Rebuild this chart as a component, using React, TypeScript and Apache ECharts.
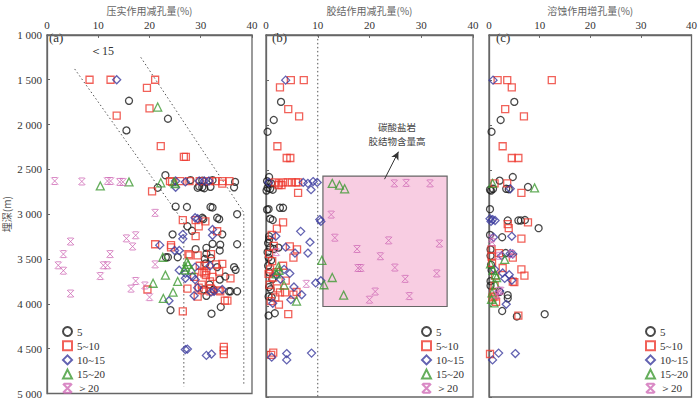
import React, { useEffect, useRef } from "react";
import * as echarts from "echarts";

// ---------- data: [value(%), depth(m)] ----------
const classNames = ["5", "5~10", "10~15", "15~20", "＞20"];
const panelTitles = ["压实作用减孔量(%)", "胶结作用减孔量(%)", "溶蚀作用增孔量(%)"];
const panelTags = ["(a)", "(b)", "(c)"];
const depthTicks = [1000, 1500, 2000, 2500, 3000, 3500, 4000, 4500, 5000];

const a5 = [[16.0,1735],[23.6,1935],[15.5,2065],[23.1,2565],[21.6,2705],[28.0,2620],[30.3,2625],[32.3,2620],[36.7,2640],[29.7,2690],[30.3,2700],[31.9,2695],[36.5,2700],[29.4,2705],[30.7,2710],[25.1,2915],[27.3,2920],[31.9,2920],[32.3,2925],[30.3,3040],[30.5,3055],[33.2,3040],[33.6,3055],[37.1,3000],[27.4,3135],[28.3,3185],[24.5,3225],[34.2,3225],[29.0,3390],[31.1,3375],[32.3,3330],[33.8,3340],[33.7,3405],[31.1,3440],[23.2,3480],[23.6,3480],[25.5,3480],[37.1,3335],[30.8,3500],[32.0,3490],[30.9,3550],[36.8,3620],[34.8,3695],[33.7,3730],[31.7,3785],[32.5,3840],[35.5,3860],[37.1,3860],[31.1,3910],[33.9,4035],[32.1,4110],[24.1,4070],[30.6,3840],[33.2,3590],[36.5,3590],[35.8,3860]];
const a510 = [[8.3,1500],[12.4,1500],[21.1,1500],[19.5,1590],[20.0,1820],[13.6,1900],[22.2,2240],[26.7,2360],[27.1,2360],[20.5,2745],[24.0,2630],[26.0,2630],[27.8,2630],[29.8,2630],[31.7,2630],[32.9,2630],[34.2,2630],[35.6,2630],[34.2,2660],[24.4,2640],[21.1,3335],[24.2,3345],[24.2,3370],[26.5,3065],[29.0,3065],[30.9,3080],[29.6,3135],[29.0,3245],[33.2,3190],[27.6,3445],[29.4,3460],[32.0,3445],[29.8,3575],[30.7,3575],[31.1,3635],[30.7,3660],[33.0,3560],[34.2,3555],[32.3,3700],[35.8,3715],[27.4,3830],[29.6,3820],[32.0,3830],[33.5,3850],[29.4,3920],[34.7,3965],[35.2,3965],[19.6,3840],[26.5,4085],[34.5,4480],[34.5,4520],[34.5,4560],[31.8,3750],[30.2,3785],[30.3,3640],[31.0,3680],[33.6,3640],[30.3,3850],[31.9,3860],[33.8,3860],[28.7,3700],[27.8,3460]];
const a1015 = [[13.6,1500],[25.1,2630],[27.0,2640],[29.7,2630],[30.7,2630],[31.6,2630],[25.1,2700],[28.9,3040],[29.4,3050],[26.5,3225],[26.5,3275],[22.0,3345],[24.9,3405],[25.8,3405],[32.3,3170],[32.3,3235],[25.8,3625],[27.0,3660],[27.0,3715],[28.9,3590],[31.8,3575],[28.9,3730],[29.4,3820],[28.7,3910],[23.8,3965],[27.0,4510],[27.4,4505],[31.1,4575],[32.1,4560],[32.0,3870],[34.2,3840],[32.6,3860],[28.4,3695]];
const a1520 = [[21.6,1805],[10.4,2685],[16.0,2640],[22.2,2650],[24.8,2640],[25.0,2660],[22.6,3480],[27.3,3530],[27.5,3560],[27.0,3590],[26.8,3620],[28.2,3620],[23.1,3680],[25.5,3750],[20.7,3770],[24.6,3870],[22.7,3940]];
const a20 = [[1.5,2630],[6.8,2635],[11.8,2630],[12.4,2630],[14.2,2640],[14.8,2640],[21.1,2985],[4.6,3305],[15.5,3270],[17.3,3235],[16.7,3360],[3.2,3445],[12.3,3445],[2.2,3570],[3.2,3630],[11.0,3570],[11.8,3570],[10.4,3690],[17.3,3745],[16.4,3830],[19.1,3795],[20.0,3925],[21.1,3560],[4.6,3885]];

const b5 = [[2.9,1740],[1.5,1940],[0.3,2070],[0.6,2570],[0.2,2615],[0.5,2640],[1.0,2640],[0.3,2690],[0.8,2700],[1.3,2710],[0.1,2720],[0.5,2925],[2.7,2910],[3.3,2910],[0.2,2930],[0.8,3030],[1.3,3045],[0.6,3225],[0.6,3260],[0.8,3350],[2.4,3350],[1.5,3365],[0.5,3460],[1.0,3490],[0.6,3785],[0.9,3810],[0.5,3890],[1.1,3900],[0.5,4100],[1.7,4075],[0.4,3550],[0.6,3620],[1.2,3700],[0.3,3400],[0.4,3300]];
const b510 = [[4.8,1500],[7.3,1500],[2.7,1580],[4.3,1820],[6.4,1900],[2.2,2230],[4.0,2360],[4.7,2360],[6.2,2745],[1.7,2630],[2.5,2640],[3.3,2630],[4.2,2630],[5.0,2630],[5.8,2630],[6.2,2630],[2.4,2660],[3.0,2660],[3.3,3070],[2.1,3140],[1.1,3210],[4.6,3335],[6.0,3370],[5.3,3460],[3.3,3550],[0.8,3590],[3.8,3715],[2.7,3845],[3.7,3845],[2.2,3800],[5.9,3840],[2.5,3980],[4.3,4085],[1.4,4510],[1.0,4535],[5.3,3870],[0.6,3420],[1.2,3500],[0.5,3640],[1.4,3680],[0.7,3760],[1.8,3900],[0.9,3940],[2.0,3620],[1.5,3330]];
const b1015 = [[3.8,1500],[7.2,2630],[8.1,2640],[9.1,2620],[9.9,2630],[8.7,2710],[0.5,2630],[10.4,3040],[10.6,3060],[6.7,3170],[8.5,3290],[8.1,3410],[5.6,3410],[9.6,3740],[10.6,3715],[5.4,3785],[6.9,3870],[4.8,3925],[4.6,3635],[3.5,3590],[1.9,3225],[3.8,3345],[1.3,3965],[8.8,4515],[4.0,4520],[4.0,4590],[1.1,4560],[2.0,3650],[2.8,3700]];
const b1520 = [[12.8,2640],[14.2,2660],[15.2,2700],[10.8,3490],[12.8,3680],[11.2,3760],[15.0,3875],[5.9,3940],[3.5,3765],[2.5,3600],[2.4,3560],[2.0,3640]];
const b20 = [[24.8,2640],[27.1,2635],[31.7,2640],[12.6,2985],[13.3,3240],[23.7,3270],[33.5,3305],[17.6,3365],[22.1,3445],[17.8,3575],[18.3,3575],[24.9,3570],[33.0,3635],[26.9,3695],[21.1,3835],[20.0,3925],[27.7,3885],[7.8,3750],[2.0,3400]];

const c5 = [[5.0,1740],[2.3,1940],[0.5,2070],[4.7,2570],[2.1,2610],[0.8,2700],[0.2,2710],[3.4,2700],[3.9,2705],[7.7,2680],[0.4,2720],[0.2,2925],[3.7,3050],[5.8,3050],[6.3,3050],[7.1,3045],[9.8,3135],[2.6,3235],[0.2,3210],[3.7,3875],[3.7,3910],[2.6,4050],[5.5,4110],[11.0,4085],[3.3,3410],[0.3,3370],[0.3,3440],[0.3,3720],[0.3,3770],[2.1,3840],[0.4,3540],[0.5,3600]];
const c510 = [[1.7,1500],[3.6,1500],[12.4,1500],[4.5,1580],[3.2,1820],[6.9,1900],[2.7,2230],[4.5,2360],[5.8,2360],[6.4,2745],[3.6,2640],[1.1,2640],[7.7,3070],[3.7,3090],[3.9,3135],[6.4,3250],[0.5,3370],[2.0,3410],[4.7,3460],[6.4,3590],[7.0,3660],[2.7,3575],[4.7,3725],[5.0,3730],[5.8,4100],[0.9,3840],[1.1,3890],[1.4,3950],[0.7,3900],[0.2,4525],[1.1,3770],[0.5,3450],[0.6,3520],[1.2,3660]];
const c1015 = [[0.8,1500],[4.2,2700],[0.2,3030],[0.7,3040],[1.2,3050],[0.4,3060],[4.5,3225],[0.9,3235],[4.2,3415],[4.7,3420],[2.7,3630],[4.0,3650],[4.5,3710],[3.1,3690],[1.1,3590],[3.4,3975],[1.9,4515],[5.2,4520],[0.7,4590],[2.1,3830],[2.5,3440]];
const c1520 = [[9.0,2690],[0.7,2640],[3.1,3480],[0.3,3530],[0.8,3600],[1.3,3650],[1.5,3680],[1.3,3760],[0.5,3920],[1.0,3960],[0.6,3850]];
const c20 = [[0.5,3250],[0.6,3290],[2.0,3440],[4.4,3420],[2.0,3830],[2.3,3825],[1.5,3870]];

// guide lines and annotations (data coordinates)
const trendLineLeft = [[5.4,1380],[26.7,3090],[26.7,4920]];
const trendLineRight = [[18.3,1250],[38.4,2980],[38.4,4890]];
const cementLimit = [[10,1000],[10,5000]];
const carbonateBox = [[11,2560],[35,4000]];
const arrowFrom = [22.9,2594];
const arrowTo = [25.6,2290];
const noteLines = ["碳酸盐岩", "胶结物含量高"];

const panelData = [
  [a5, a510, a1015, a1520, a20],
  [b5, b510, b1015, b1520, b20],
  [c5, c510, c1015, c1520, c20],
];

const styles = [
  { symbol: "circle", size: 7, color: "#1a1a1a", bw: 1.3 },
  { symbol: "rect", size: 7, color: "#ee3a2f", bw: 1.3 },
  { symbol: "diamond", size: 8, color: "#3b3b9e", bw: 1.3 },
  { symbol: "triangle", size: 8, color: "#3e9a33", bw: 1.3 },
  { symbol: "path://M0,0L10,10M10,0L0,10M1,0L9,0M1,10L9,10", size: 7, color: "#d06cb6", bw: 1 },
];

const serif = "Liberation Serif";
const cjk = "Noto Sans CJK SC";
const fmtDepth = (v: number) => {
  const s = String(v);
  return s.length > 3 ? s.slice(0, s.length - 3) + " " + s.slice(-3) : s;
};

export default function App() {
  const ref = useRef<HTMLDivElement>(null);
  useEffect(() => {
    if (!ref.current) return;
    const chart = echarts.init(ref.current, null, { renderer: "svg" });
    const grids = [
      { left: 43, top: 28, width: 209, height: 369 },
      { left: 266, top: 28, width: 207, height: 369 },
      { left: 489, top: 28, width: 209, height: 369 },
    ].map((g) => ({ ...g, show: true, borderColor: "#666", borderWidth: 1.3, backgroundColor: "transparent" }));

    const xAxes = [0, 1, 2].map((i) => ({
      gridIndex: i,
      type: "value",
      position: "top",
      min: 0,
      max: 40,
      interval: 10,
      name: panelTitles[i],
      nameLocation: "middle",
      nameGap: 16,
      nameTextStyle: { fontFamily: cjk, fontSize: 10, color: "#666" },
      axisLine: { lineStyle: { color: "#666", width: 1.3 } },
      axisTick: { inside: true, length: 3, lineStyle: { color: "#666" } },
      axisLabel: { fontFamily: serif, fontSize: 11, color: "#333", margin: 4 },
      splitLine: { show: false },
    }));
    const yAxes = [0, 1, 2].map((i) => ({
      gridIndex: i,
      type: "value",
      inverse: true,
      min: 1000,
      max: 5000,
      interval: 500,
      name: i === 0 ? "埋深(m)" : "",
      nameLocation: "middle",
      nameGap: 36,
      nameRotate: 90,
      nameTextStyle: { fontFamily: cjk, fontSize: 10, color: "#555" },
      axisLine: { lineStyle: { color: "#666", width: 1.3 } },
      axisTick: { inside: true, length: 3, lineStyle: { color: "#666" } },
      axisLabel: {
        show: i === 0,
        fontFamily: serif,
        fontSize: 11,
        color: "#333",
        margin: 5,
        formatter: (v: number) => fmtDepth(v),
        customValues: depthTicks,
      },
      splitLine: { show: false },
    }));

    const series: any[] = [];
    const dotted = { color: "#555", width: 1, type: [1.5, 2.5] };
    series.push({ type: "line", xAxisIndex: 0, yAxisIndex: 0, data: trendLineLeft, symbol: "none", lineStyle: dotted, silent: true, z: 1 });
    series.push({ type: "line", xAxisIndex: 0, yAxisIndex: 0, data: trendLineRight, symbol: "none", lineStyle: dotted, silent: true, z: 1 });
    series.push({
      type: "line", xAxisIndex: 1, yAxisIndex: 1, data: cementLimit, symbol: "none", lineStyle: dotted, silent: true, z: 1,
      markArea: {
        silent: true,
        itemStyle: { color: "#f8cde2", borderColor: "#666", borderWidth: 1.2 },
        data: [[{ coord: carbonateBox[0] }, { coord: carbonateBox[1] }]],
      },
      markLine: {
        silent: true,
        symbol: ["none", "arrow"],
        symbolSize: [6, 8],
        lineStyle: { color: "#333", type: "solid", width: 1 },
        label: { show: false },
        data: [[{ coord: arrowFrom }, { coord: arrowTo }]],
      },
    });

    panelData.forEach((groups, p) => {
      groups.forEach((data, k) => {
        const st = styles[k];
        series.push({
          type: "scatter",
          name: classNames[k],
          xAxisIndex: p,
          yAxisIndex: p,
          data,
          symbol: st.symbol,
          symbolSize: st.size,
          itemStyle: { color: "rgba(0,0,0,0)", borderColor: st.color, borderWidth: st.bw },
          z: 3,
        });
      });
    });

    const legendBase = {
      orient: "vertical",
      top: 326,
      height: 72,
      padding: 0,
      itemWidth: 9,
      itemHeight: 9,
      itemGap: 3.2,
      selectedMode: false,
      textStyle: { fontFamily: serif, fontSize: 11, lineHeight: 10, color: "#333" },
      data: classNames,
    };

    const txt = (text: string, x: number, y: number, font: string, size: number, extra: any = {}) => ({
      type: "text",
      x,
      y,
      style: { text, fontFamily: font, fontSize: size, fill: "#333", ...extra },
    });

    chart.setOption({
      animation: false,
      backgroundColor: "#fff",
      grid: grids,
      xAxis: xAxes,
      yAxis: yAxes,
      series,
      legend: [
        { ...legendBase, left: 62 },
        { ...legendBase, left: 421 },
        { ...legendBase, left: 645 },
      ],
      graphic: [
        txt(panelTags[0], 49, 31, serif, 13),
        txt(panelTags[1], 272, 31, serif, 13),
        txt(panelTags[2], 496, 31, serif, 13),
        txt("＜15", 90, 45, serif, 12),
        txt(noteLines[0], 397, 126.5, cjk, 9.5, { align: "center", verticalAlign: "middle", fill: "#444" }),
        txt(noteLines[1], 397, 140.5, cjk, 9.5, { align: "center", verticalAlign: "middle", fill: "#444" }),
      ],
    });
    return () => chart.dispose();
  }, []);
  return (
    <div
      ref={ref}
      style={{ position: "fixed", left: 0, top: 0, width: 700, height: 399, background: "#fff" }}
    />
  );
}
